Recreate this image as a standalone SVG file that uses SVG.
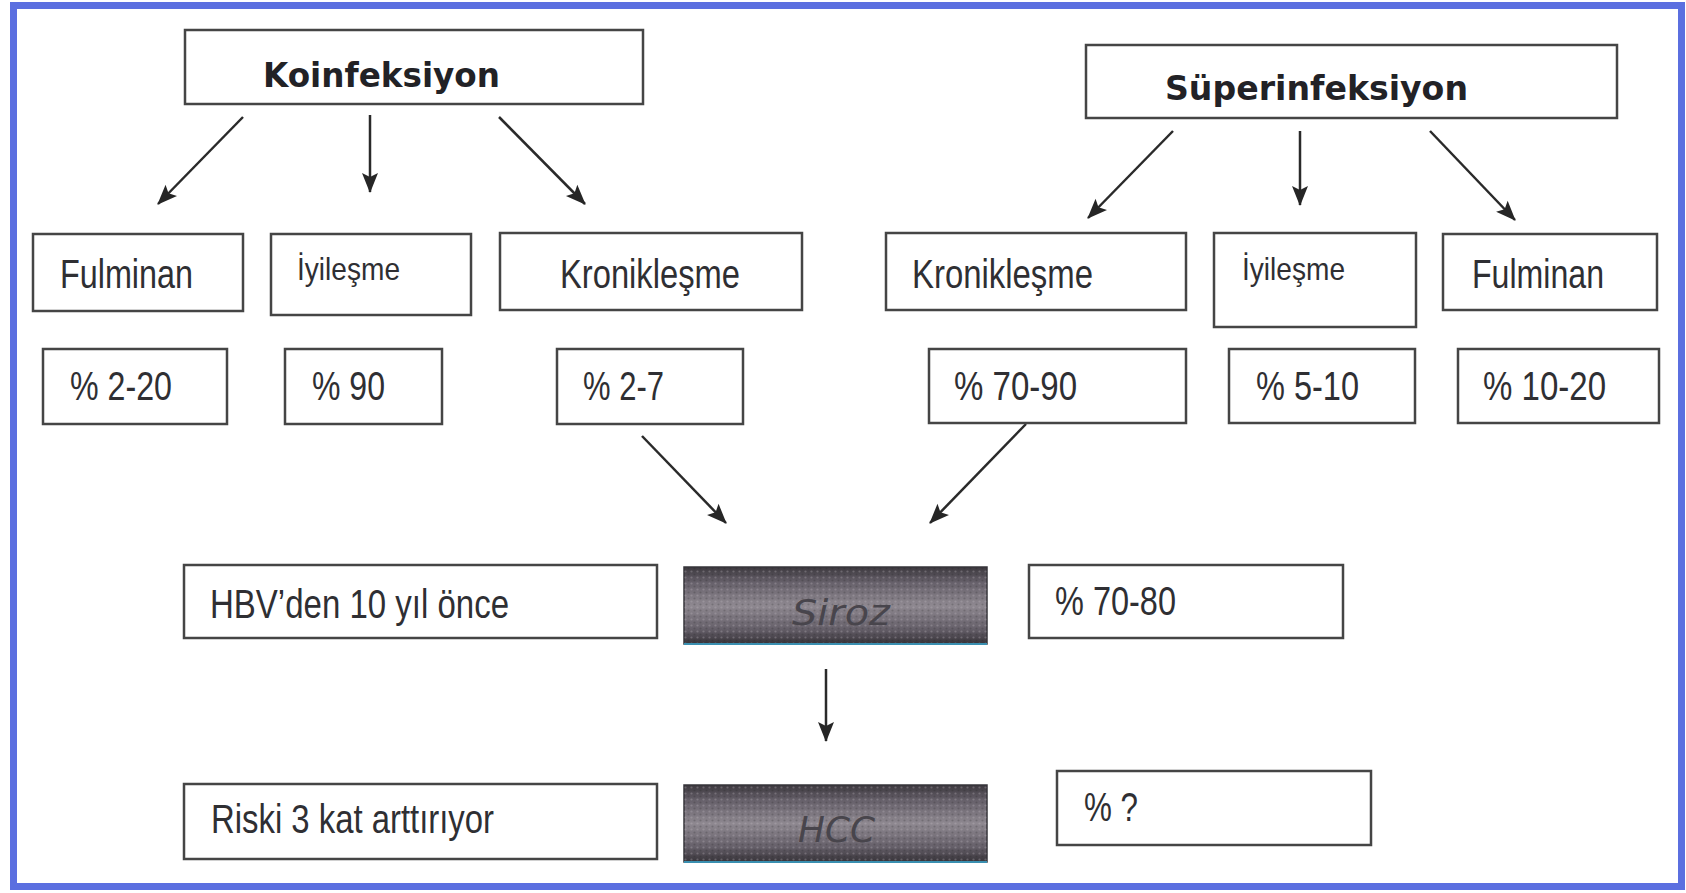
<svg xmlns="http://www.w3.org/2000/svg" width="1686" height="893" viewBox="0 0 1686 893">
<defs>
<style>
.box{fill:#ffffff;stroke:#454545;stroke-width:2.5}
.t{font-family:"Liberation Sans",Arial,sans-serif;font-size:41px;fill:#2f2f33}
.ts{font-family:"Liberation Sans",Arial,sans-serif;font-size:32px;fill:#2f2f33}
.h{font-family:"DejaVu Sans",Verdana,sans-serif;font-weight:bold;font-size:34px;fill:#222226}
.d{font-family:"DejaVu Sans",Verdana,sans-serif;font-style:italic;font-size:36px;fill:#48454c}
.dark{fill:url(#dg);stroke:#36343a;stroke-width:1.5}
.dots{fill:url(#dp)}
.edge{stroke:#3a8fb0;stroke-width:2}
.arr{stroke:#2a2a2a;stroke-width:2.5;fill:none;marker-end:url(#ah)}
</style>
<marker id="ah" viewBox="0 0 20 16" refX="19" refY="8" markerWidth="20" markerHeight="16" markerUnits="userSpaceOnUse" orient="auto" overflow="visible">
<path d="M0,0 L20,8 L0,16 L4,8 Z" fill="#262626"/>
</marker>
<linearGradient id="dg" x1="0" y1="0" x2="0" y2="1">
<stop offset="0" stop-color="#3c383e"/>
<stop offset="0.2" stop-color="#66606a"/>
<stop offset="0.5" stop-color="#8e8890"/>
<stop offset="0.8" stop-color="#66606a"/>
<stop offset="1" stop-color="#363238"/>
</linearGradient>
<pattern id="dp" width="6" height="6" patternUnits="userSpaceOnUse">
<circle cx="1.5" cy="1.5" r="1.1" fill="#c4bec6" fill-opacity="0.3"/>
<circle cx="4.5" cy="4.5" r="1.1" fill="#222" fill-opacity="0.22"/>
</pattern>
</defs>
<rect x="0" y="0" width="1686" height="893" fill="#ffffff"/>
<rect id="frame" x="13.5" y="5.5" width="1668" height="881" fill="none" stroke="#5b6fe0" stroke-width="7"/>

<g id="connectors">
<line class="arr" x1="243" y1="117" x2="158" y2="204"/>
<line class="arr" x1="370" y1="115" x2="370" y2="192"/>
<line class="arr" x1="499" y1="117" x2="585" y2="204"/>
<line class="arr" x1="1173" y1="131" x2="1088" y2="218"/>
<line class="arr" x1="1300" y1="131" x2="1300" y2="205"/>
<line class="arr" x1="1430" y1="131" x2="1515" y2="220"/>
<line class="arr" x1="642" y1="436" x2="726" y2="523"/>
<line class="arr" x1="1026" y1="424" x2="930" y2="523"/>
<line class="arr" x1="826" y1="669" x2="826" y2="741"/>
</g>

<g id="koinfeksiyon">
<rect class="box" x="185" y="30" width="458" height="74"/>
<text class="h" x="263" y="87" textLength="237" lengthAdjust="spacingAndGlyphs">Koinfeksiyon</text>
</g>
<g id="superinfeksiyon">
<rect class="box" x="1086" y="45" width="531" height="73"/>
<text class="h" x="1165" y="100" textLength="303" lengthAdjust="spacingAndGlyphs">Süperinfeksiyon</text>
</g>

<g id="fulminan-l">
<rect class="box" x="33" y="234" width="210" height="77"/>
<text class="t" x="60" y="288" textLength="133" lengthAdjust="spacingAndGlyphs">Fulminan</text>
</g>
<g id="iyilesme-l">
<rect class="box" x="271" y="234" width="200" height="81"/>
<text class="ts" x="297" y="280" textLength="103" lengthAdjust="spacingAndGlyphs">İyileşme</text>
</g>
<g id="kroniklesme-l">
<rect class="box" x="500" y="233" width="302" height="77"/>
<text class="t" x="560" y="288" textLength="180" lengthAdjust="spacingAndGlyphs">Kronikleşme</text>
</g>
<g id="kroniklesme-r">
<rect class="box" x="886" y="233" width="300" height="77"/>
<text class="t" x="912" y="288" textLength="181" lengthAdjust="spacingAndGlyphs">Kronikleşme</text>
</g>
<g id="iyilesme-r">
<rect class="box" x="1214" y="233" width="202" height="94"/>
<text class="ts" x="1242" y="280" textLength="103" lengthAdjust="spacingAndGlyphs">İyileşme</text>
</g>
<g id="fulminan-r">
<rect class="box" x="1443" y="234" width="214" height="76"/>
<text class="t" x="1472" y="288" textLength="132" lengthAdjust="spacingAndGlyphs">Fulminan</text>
</g>

<g id="p-2-20">
<rect class="box" x="43" y="349" width="184" height="75"/>
<text class="t" x="70" y="400" textLength="102" lengthAdjust="spacingAndGlyphs">% 2-20</text>
</g>
<g id="p-90">
<rect class="box" x="285" y="349" width="157" height="75"/>
<text class="t" x="312" y="400" textLength="73" lengthAdjust="spacingAndGlyphs">% 90</text>
</g>
<g id="p-2-7">
<rect class="box" x="557" y="349" width="186" height="75"/>
<text class="t" x="583" y="400" textLength="81" lengthAdjust="spacingAndGlyphs">% 2-7</text>
</g>
<g id="p-70-90">
<rect class="box" x="929" y="349" width="257" height="74"/>
<text class="t" x="954" y="400" textLength="123" lengthAdjust="spacingAndGlyphs">% 70-90</text>
</g>
<g id="p-5-10">
<rect class="box" x="1229" y="349" width="186" height="74"/>
<text class="t" x="1256" y="400" textLength="103" lengthAdjust="spacingAndGlyphs">% 5-10</text>
</g>
<g id="p-10-20">
<rect class="box" x="1458" y="349" width="201" height="74"/>
<text class="t" x="1483" y="400" textLength="123" lengthAdjust="spacingAndGlyphs">% 10-20</text>
</g>

<g id="hbv">
<rect class="box" x="184" y="565" width="473" height="73"/>
<text class="t" x="210" y="618" textLength="299" lengthAdjust="spacingAndGlyphs">HBV’den 10 yıl önce</text>
</g>
<g id="siroz">
<rect class="dark" x="684" y="567" width="303" height="77"/>
<rect class="dots" x="684" y="567" width="303" height="77"/>
<line class="edge" x1="684" y1="644" x2="987" y2="644"/>
<text class="d" x="792" y="625" textLength="98" lengthAdjust="spacingAndGlyphs">Siroz</text>
</g>
<g id="p-70-80">
<rect class="box" x="1029" y="565" width="314" height="73"/>
<text class="t" x="1055" y="615" textLength="121" lengthAdjust="spacingAndGlyphs">% 70-80</text>
</g>

<g id="riski">
<rect class="box" x="184" y="784" width="473" height="75"/>
<text class="t" x="211" y="833" textLength="283" lengthAdjust="spacingAndGlyphs">Riski 3 kat arttırıyor</text>
</g>
<g id="hcc">
<rect class="dark" x="684" y="785" width="303" height="77"/>
<rect class="dots" x="684" y="785" width="303" height="77"/>
<line class="edge" x1="684" y1="862" x2="987" y2="862" stroke="#6fd0e8"/>
<text class="d" x="798" y="842" textLength="77" lengthAdjust="spacingAndGlyphs">HCC</text>
</g>
<g id="p-q">
<rect class="box" x="1057" y="771" width="314" height="74"/>
<text class="t" x="1084" y="821" textLength="54" lengthAdjust="spacingAndGlyphs">% ?</text>
</g>
</svg>
